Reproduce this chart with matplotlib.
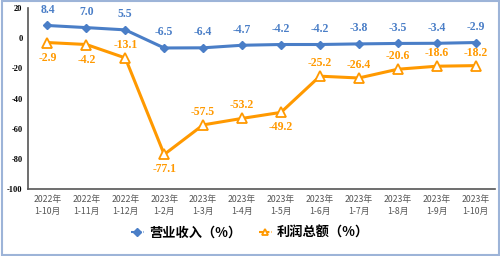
import matplotlib
matplotlib.use("Agg")
import matplotlib.pyplot as plt
from matplotlib.patches import Rectangle

plt.rcParams['font.family'] = ['Noto Sans CJK SC', 'DejaVu Sans']

periods = ["2022年\n1-10月", "2022年\n1-11月", "2022年\n1-12月", "2023年\n1-2月",
           "2023年\n1-3月", "2023年\n1-4月", "2023年\n1-5月", "2023年\n1-6月",
           "2023年\n1-7月", "2023年\n1-8月", "2023年\n1-9月", "2023年\n1-10月"]
revenue = [8.4, 7.0, 5.5, -6.5, -6.4, -4.7, -4.2, -4.2, -3.8, -3.5, -3.4, -2.9]
profit = [-2.9, -4.2, -13.1, -77.1, -57.5, -53.2, -49.2, -25.2, -26.4, -20.6, -18.6, -18.2]
# which profit labels sit under the point
profit_below = [True, True, False, True, False, False, True, False, False, False, False, False]

blue = "#4A7EC7"
orange = "#FF9900"

fig = plt.figure(figsize=(5, 2.56), dpi=100)
ax = fig.add_axes([28/500, 1-189/256, 467/500, 181/256])

x = range(len(periods))
ax.plot(x, revenue, color=blue, lw=2.2, marker="D", ms=4.5, mfc=blue, mec=blue,
        label="营业收入（%）")
ax.plot(x, profit, color=orange, lw=2.2, marker="^", ms=6.5, mfc="white", mec=orange,
        mew=1.3, label="利润总额（%）")

num_font = dict(family="Liberation Serif", weight="bold", fontsize=8.5)
for i, v in enumerate(revenue):
    ax.annotate(f"{v:.1f}", (i, v), xytext=(0, 7), textcoords="offset points",
                ha="center", va="bottom", color=blue, **num_font)
for i, v in enumerate(profit):
    if profit_below[i]:
        ax.annotate(f"{v:.1f}", (i, v), xytext=(0, -6.5), textcoords="offset points",
                    ha="center", va="top", color=orange, **num_font)
    else:
        ax.annotate(f"{v:.1f}", (i, v), xytext=(0, 5), textcoords="offset points",
                    ha="center", va="bottom", color=orange, **num_font)

ax.set_xlim(-0.5, 11.5)
ax.set_ylim(-100, 20)
ax.set_yticks(range(-100, 21, 20))
ax.set_yticklabels([str(t) for t in range(-100, 21, 20)], family="Liberation Serif",
                   weight="bold", fontsize=6)
ax.set_xticks(list(x))
ax.set_xticklabels(periods, fontsize=6.3, color="#555555", linespacing=1.5)
ax.tick_params(length=0, pad=4)
for s in ["top", "right"]:
    ax.spines[s].set_visible(False)
ax.spines["left"].set_color("#555555")
ax.spines["bottom"].set_color("#555555")
ax.spines["left"].set_linewidth(1.2)
ax.spines["bottom"].set_linewidth(1.2)

leg = fig.legend(loc="center", bbox_to_anchor=(0.5, 1-233/256), ncol=2, frameon=False,
                 prop=dict(family=["Noto Sans CJK SC"], weight="bold", size=9.5),
                 handlelength=1.0, columnspacing=1.3, handletextpad=0.4)
for h in leg.legend_handles:
    h.set_linestyle((0, (2, 1)))
    h.set_linewidth(1.5)
    h.set_markersize(4)

fig.patches.append(Rectangle((0.003, 0.005), 0.994, 0.99, transform=fig.transFigure,
                             fill=False, edgecolor="#9DB4D8", lw=1.5))
fig.savefig("out.png", dpi=100)
